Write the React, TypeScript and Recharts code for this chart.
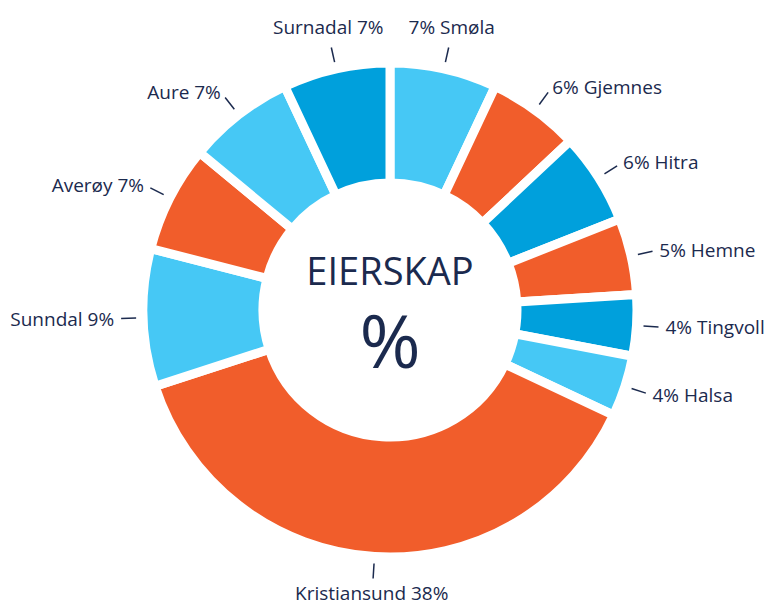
import React from "react";
import { PieChart, Pie, Cell } from "recharts";

const names = ["Smøla", "Gjemnes", "Hitra", "Hemne", "Tingvoll", "Halsa", "Kristiansund", "Sunndal", "Averøy", "Aure", "Surnadal"];
const shares = [7, 6, 6, 5, 4, 4, 38, 9, 7, 7, 7];
const sliceColors = ["#46C8F5", "#F15D2B", "#00A0DC", "#F15D2B", "#00A0DC", "#46C8F5", "#F15D2B", "#46C8F5", "#F15D2B", "#46C8F5", "#00A0DC"];

const data = names.map((name, i) => ({ name, value: shares[i] }));

const INK = "#1B2A4E";
const FONT = "'Open Sans', sans-serif";
const RAD = Math.PI / 180;

function OutsideLabel(props: any) {
  const { cx, cy, midAngle, name, value } = props;
  const cos = Math.cos(-midAngle * RAD);
  const sin = Math.sin(-midAngle * RAD);
  const pt = (r: number) => [cx + r * cos, cy + r * sin];
  const [x1, y1] = pt(254);
  const [x2, y2] = pt(269);
  const right = cos > 0;
  const text = right ? `${value}% ${name}` : `${name} ${value}%`;

  let tx: number, ty: number, anchor: "start" | "end" | "middle", baseline: string;
  if (Math.abs(cos) < 0.3) {
    // top / bottom labels sit centred above or below the leader
    const [px, py] = pt(sin < 0 ? 283 : 291);
    tx = px;
    ty = py;
    anchor = "middle";
    baseline = "auto";
  } else {
    const [px, py] = pt(276);
    tx = px;
    ty = py;
    anchor = right ? "start" : "end";
    baseline = "central";
  }

  return (
    <g>
      <line x1={x1} y1={y1} x2={x2} y2={y2} stroke={INK} strokeWidth={1.5} />
      <text x={tx} y={ty} textAnchor={anchor} dominantBaseline={baseline as any} fill={INK} fontSize={19} fontFamily={FONT}>
        {text}
      </text>
    </g>
  );
}

export default function App() {
  return (
    <div style={{ position: "absolute", left: 0, top: 0, width: 771, height: 605, background: "#fff" }}>
      <PieChart width={771} height={605} margin={{ top: 0, right: 0, bottom: 0, left: 0 }}>
        <Pie
          data={data}
          dataKey="value"
          nameKey="name"
          cx={390}
          cy={310}
          innerRadius={127}
          outerRadius={247}
          startAngle={90}
          endAngle={-270}
          stroke="#fff"
          strokeWidth={9}
          label={OutsideLabel}
          labelLine={false}
          isAnimationActive={false}
        >
          {data.map((d, i) => (
            <Cell key={d.name} fill={sliceColors[i]} />
          ))}
        </Pie>
        <text x={390} y={285} textAnchor="middle" fill={INK} fontSize={38} fontFamily={FONT}>
          EIERSKAP
        </text>
        <text x={390} y={368} textAnchor="middle" fill={INK} fontSize={74} fontFamily={FONT}>
          %
        </text>
      </PieChart>
    </div>
  );
}
